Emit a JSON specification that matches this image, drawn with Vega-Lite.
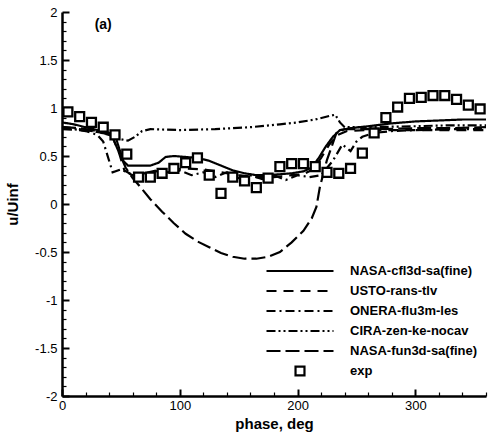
{
  "$schema": "https://vega.github.io/schema/vega-lite/v6.json",
  "width": 424,
  "height": 384,
  "autosize": {"type": "none"},
  "padding": {"left": 62, "top": 12, "right": 13, "bottom": 43},
  "background": "white",
  "config": {
    "view": {"stroke": null},
    "font": "Liberation Sans",
    "axis": {"grid": false, "domainColor": "black", "tickColor": "black", "labelColor": "black", "titleColor": "black"},
    "legend": {"padding": 0}
  },
  "resolve": {"axis": {"x": "independent", "y": "independent"}},
  "data": {"values": [
    {"series":"NASA-cfl3d-sa(fine)","phase":0,"u":0.85},{"series":"NASA-cfl3d-sa(fine)","phase":10,"u":0.83},{"series":"NASA-cfl3d-sa(fine)","phase":20,"u":0.80},{"series":"NASA-cfl3d-sa(fine)","phase":30,"u":0.77},{"series":"NASA-cfl3d-sa(fine)","phase":40,"u":0.74},{"series":"NASA-cfl3d-sa(fine)","phase":45,"u":0.72},{"series":"NASA-cfl3d-sa(fine)","phase":48,"u":0.60},{"series":"NASA-cfl3d-sa(fine)","phase":52,"u":0.45},{"series":"NASA-cfl3d-sa(fine)","phase":56,"u":0.40},{"series":"NASA-cfl3d-sa(fine)","phase":65,"u":0.40},{"series":"NASA-cfl3d-sa(fine)","phase":75,"u":0.40},{"series":"NASA-cfl3d-sa(fine)","phase":82,"u":0.43},{"series":"NASA-cfl3d-sa(fine)","phase":88,"u":0.49},{"series":"NASA-cfl3d-sa(fine)","phase":95,"u":0.50},{"series":"NASA-cfl3d-sa(fine)","phase":105,"u":0.49},{"series":"NASA-cfl3d-sa(fine)","phase":115,"u":0.48},{"series":"NASA-cfl3d-sa(fine)","phase":125,"u":0.45},{"series":"NASA-cfl3d-sa(fine)","phase":135,"u":0.40},{"series":"NASA-cfl3d-sa(fine)","phase":145,"u":0.35},{"series":"NASA-cfl3d-sa(fine)","phase":155,"u":0.32},{"series":"NASA-cfl3d-sa(fine)","phase":165,"u":0.30},{"series":"NASA-cfl3d-sa(fine)","phase":175,"u":0.30},{"series":"NASA-cfl3d-sa(fine)","phase":185,"u":0.31},{"series":"NASA-cfl3d-sa(fine)","phase":195,"u":0.32},{"series":"NASA-cfl3d-sa(fine)","phase":205,"u":0.34},{"series":"NASA-cfl3d-sa(fine)","phase":212,"u":0.38},{"series":"NASA-cfl3d-sa(fine)","phase":218,"u":0.48},{"series":"NASA-cfl3d-sa(fine)","phase":224,"u":0.60},{"series":"NASA-cfl3d-sa(fine)","phase":230,"u":0.70},{"series":"NASA-cfl3d-sa(fine)","phase":236,"u":0.77},{"series":"NASA-cfl3d-sa(fine)","phase":245,"u":0.79},{"series":"NASA-cfl3d-sa(fine)","phase":260,"u":0.81},{"series":"NASA-cfl3d-sa(fine)","phase":280,"u":0.84},{"series":"NASA-cfl3d-sa(fine)","phase":300,"u":0.86},{"series":"NASA-cfl3d-sa(fine)","phase":320,"u":0.87},{"series":"NASA-cfl3d-sa(fine)","phase":340,"u":0.88},{"series":"NASA-cfl3d-sa(fine)","phase":360,"u":0.88},

    {"series":"USTO-rans-tlv","phase":0,"u":0.78},{"series":"USTO-rans-tlv","phase":15,"u":0.77},{"series":"USTO-rans-tlv","phase":30,"u":0.75},{"series":"USTO-rans-tlv","phase":42,"u":0.72},{"series":"USTO-rans-tlv","phase":48,"u":0.55},{"series":"USTO-rans-tlv","phase":53,"u":0.35},{"series":"USTO-rans-tlv","phase":60,"u":0.30},{"series":"USTO-rans-tlv","phase":75,"u":0.33},{"series":"USTO-rans-tlv","phase":90,"u":0.36},{"series":"USTO-rans-tlv","phase":105,"u":0.37},{"series":"USTO-rans-tlv","phase":120,"u":0.36},{"series":"USTO-rans-tlv","phase":135,"u":0.33},{"series":"USTO-rans-tlv","phase":150,"u":0.30},{"series":"USTO-rans-tlv","phase":165,"u":0.28},{"series":"USTO-rans-tlv","phase":180,"u":0.28},{"series":"USTO-rans-tlv","phase":195,"u":0.30},{"series":"USTO-rans-tlv","phase":205,"u":0.31},{"series":"USTO-rans-tlv","phase":213,"u":0.36},{"series":"USTO-rans-tlv","phase":220,"u":0.48},{"series":"USTO-rans-tlv","phase":227,"u":0.62},{"series":"USTO-rans-tlv","phase":234,"u":0.72},{"series":"USTO-rans-tlv","phase":242,"u":0.76},{"series":"USTO-rans-tlv","phase":260,"u":0.77},{"series":"USTO-rans-tlv","phase":290,"u":0.77},{"series":"USTO-rans-tlv","phase":320,"u":0.77},{"series":"USTO-rans-tlv","phase":360,"u":0.77},

    {"series":"ONERA-flu3m-les","phase":0,"u":0.80},{"series":"ONERA-flu3m-les","phase":10,"u":0.78},{"series":"ONERA-flu3m-les","phase":20,"u":0.76},{"series":"ONERA-flu3m-les","phase":30,"u":0.72},{"series":"ONERA-flu3m-les","phase":35,"u":0.65},{"series":"ONERA-flu3m-les","phase":40,"u":0.45},{"series":"ONERA-flu3m-les","phase":43,"u":0.33},{"series":"ONERA-flu3m-les","phase":50,"u":0.36},{"series":"ONERA-flu3m-les","phase":60,"u":0.30},{"series":"ONERA-flu3m-les","phase":70,"u":0.32},{"series":"ONERA-flu3m-les","phase":80,"u":0.35},{"series":"ONERA-flu3m-les","phase":90,"u":0.33},{"series":"ONERA-flu3m-les","phase":100,"u":0.35},{"series":"ONERA-flu3m-les","phase":110,"u":0.30},{"series":"ONERA-flu3m-les","phase":120,"u":0.33},{"series":"ONERA-flu3m-les","phase":130,"u":0.28},{"series":"ONERA-flu3m-les","phase":140,"u":0.33},{"series":"ONERA-flu3m-les","phase":150,"u":0.27},{"series":"ONERA-flu3m-les","phase":160,"u":0.30},{"series":"ONERA-flu3m-les","phase":170,"u":0.26},{"series":"ONERA-flu3m-les","phase":180,"u":0.30},{"series":"ONERA-flu3m-les","phase":190,"u":0.25},{"series":"ONERA-flu3m-les","phase":200,"u":0.30},{"series":"ONERA-flu3m-les","phase":210,"u":0.28},{"series":"ONERA-flu3m-les","phase":220,"u":0.30},{"series":"ONERA-flu3m-les","phase":230,"u":0.45},{"series":"ONERA-flu3m-les","phase":238,"u":0.62},{"series":"ONERA-flu3m-les","phase":245,"u":0.55},{"series":"ONERA-flu3m-les","phase":250,"u":0.65},{"series":"ONERA-flu3m-les","phase":255,"u":0.70},{"series":"ONERA-flu3m-les","phase":265,"u":0.74},{"series":"ONERA-flu3m-les","phase":280,"u":0.76},{"series":"ONERA-flu3m-les","phase":300,"u":0.77},{"series":"ONERA-flu3m-les","phase":330,"u":0.78},{"series":"ONERA-flu3m-les","phase":360,"u":0.78},

    {"series":"CIRA-zen-ke-nocav","phase":0,"u":0.80},{"series":"CIRA-zen-ke-nocav","phase":10,"u":0.79},{"series":"CIRA-zen-ke-nocav","phase":20,"u":0.77},{"series":"CIRA-zen-ke-nocav","phase":30,"u":0.75},{"series":"CIRA-zen-ke-nocav","phase":40,"u":0.72},{"series":"CIRA-zen-ke-nocav","phase":48,"u":0.68},{"series":"CIRA-zen-ke-nocav","phase":56,"u":0.66},{"series":"CIRA-zen-ke-nocav","phase":62,"u":0.70},{"series":"CIRA-zen-ke-nocav","phase":68,"u":0.76},{"series":"CIRA-zen-ke-nocav","phase":75,"u":0.78},{"series":"CIRA-zen-ke-nocav","phase":100,"u":0.77},{"series":"CIRA-zen-ke-nocav","phase":130,"u":0.78},{"series":"CIRA-zen-ke-nocav","phase":160,"u":0.80},{"series":"CIRA-zen-ke-nocav","phase":185,"u":0.83},{"series":"CIRA-zen-ke-nocav","phase":200,"u":0.85},{"series":"CIRA-zen-ke-nocav","phase":215,"u":0.88},{"series":"CIRA-zen-ke-nocav","phase":228,"u":0.92},{"series":"CIRA-zen-ke-nocav","phase":232,"u":0.93},{"series":"CIRA-zen-ke-nocav","phase":236,"u":0.85},{"series":"CIRA-zen-ke-nocav","phase":240,"u":0.80},{"series":"CIRA-zen-ke-nocav","phase":260,"u":0.80},{"series":"CIRA-zen-ke-nocav","phase":300,"u":0.81},{"series":"CIRA-zen-ke-nocav","phase":330,"u":0.82},{"series":"CIRA-zen-ke-nocav","phase":360,"u":0.82},

    {"series":"NASA-fun3d-sa(fine)","phase":0,"u":0.80},{"series":"NASA-fun3d-sa(fine)","phase":15,"u":0.79},{"series":"NASA-fun3d-sa(fine)","phase":30,"u":0.76},{"series":"NASA-fun3d-sa(fine)","phase":42,"u":0.72},{"series":"NASA-fun3d-sa(fine)","phase":48,"u":0.55},{"series":"NASA-fun3d-sa(fine)","phase":54,"u":0.38},{"series":"NASA-fun3d-sa(fine)","phase":60,"u":0.27},{"series":"NASA-fun3d-sa(fine)","phase":67,"u":0.17},{"series":"NASA-fun3d-sa(fine)","phase":75,"u":0.05},{"series":"NASA-fun3d-sa(fine)","phase":85,"u":-0.08},{"series":"NASA-fun3d-sa(fine)","phase":95,"u":-0.20},{"series":"NASA-fun3d-sa(fine)","phase":105,"u":-0.31},{"series":"NASA-fun3d-sa(fine)","phase":115,"u":-0.39},{"series":"NASA-fun3d-sa(fine)","phase":125,"u":-0.45},{"series":"NASA-fun3d-sa(fine)","phase":135,"u":-0.51},{"series":"NASA-fun3d-sa(fine)","phase":145,"u":-0.55},{"series":"NASA-fun3d-sa(fine)","phase":155,"u":-0.57},{"series":"NASA-fun3d-sa(fine)","phase":165,"u":-0.57},{"series":"NASA-fun3d-sa(fine)","phase":175,"u":-0.55},{"series":"NASA-fun3d-sa(fine)","phase":185,"u":-0.50},{"series":"NASA-fun3d-sa(fine)","phase":195,"u":-0.40},{"series":"NASA-fun3d-sa(fine)","phase":205,"u":-0.28},{"series":"NASA-fun3d-sa(fine)","phase":212,"u":-0.15},{"series":"NASA-fun3d-sa(fine)","phase":216,"u":-0.03},{"series":"NASA-fun3d-sa(fine)","phase":219,"u":0.18},{"series":"NASA-fun3d-sa(fine)","phase":225,"u":0.46},{"series":"NASA-fun3d-sa(fine)","phase":233,"u":0.74},{"series":"NASA-fun3d-sa(fine)","phase":240,"u":0.78},{"series":"NASA-fun3d-sa(fine)","phase":270,"u":0.78},{"series":"NASA-fun3d-sa(fine)","phase":300,"u":0.79},{"series":"NASA-fun3d-sa(fine)","phase":330,"u":0.79},{"series":"NASA-fun3d-sa(fine)","phase":360,"u":0.80}
  ]},
  "layer": [
    {
      "transform": [{"filter": "indexof(['NASA-cfl3d-sa(fine)','USTO-rans-tlv','ONERA-flu3m-les'], datum.series) >= 0"}],
      "mark": {"type": "line", "stroke": "black", "strokeWidth": 2.2},
      "encoding": {
        "x": {"field": "phase", "type": "quantitative", "scale": {"domain": [0, 360], "nice": false, "zero": false},
          "axis": {"values": [0, 100, 200, 300], "title": "phase, deg", "titleFontSize": 15, "titleFontWeight": "bold", "titlePadding": 4,
            "labelFontSize": 13, "labelPadding": 3, "ticks": false, "domainWidth": 2.5, "labelFlush": false, "labelExpr": "datum.value + ''"}},
        "y": {"field": "u", "type": "quantitative", "scale": {"domain": [-2, 2], "nice": false, "zero": false},
          "axis": {"values": [-2, -1.5, -1, -0.5, 0, 0.5, 1, 1.5, 2], "title": "u/Uinf", "titleFontSize": 15, "titleFontWeight": "bold", "titlePadding": 14,
            "labelFontSize": 13, "labelPadding": 5, "ticks": false, "domainWidth": 2.5, "labelFlush": false, "labelExpr": "datum.value + ''"}},
        "strokeDash": {"field": "series", "type": "nominal",
          "scale": {"domain": ["NASA-cfl3d-sa(fine)", "USTO-rans-tlv", "ONERA-flu3m-les", "CIRA-zen-ke-nocav", "NASA-fun3d-sa(fine)", "exp"],
            "range": [[1, 0], [10, 7], [9, 4, 2, 4], [9, 3, 2, 3, 2, 3], [14, 5], [1, 0]]},
          "legend": {"orient": "none", "legendX": 203, "legendY": 250, "title": null,
            "symbolStrokeWidth": 2.2, "symbolStrokeColor": "black", "symbolFillColor": "white", "clipHeight": 18, "rowPadding": 2, "labelOffset": 15,
            "labelFontSize": 13, "labelFontWeight": "bold", "labelColor": "black", "labelLimit": 300}}
      }
    },
    {
      "transform": [{"filter": "indexof(['CIRA-zen-ke-nocav','NASA-fun3d-sa(fine)'], datum.series) >= 0"}],
      "mark": {"type": "line", "stroke": "black", "strokeWidth": 2.2},
      "encoding": {
        "x": {"field": "phase", "type": "quantitative",
          "axis": {"orient": "bottom", "offset": -7, "values": [0, 100, 200, 300], "labels": false, "domain": false, "title": null, "ticks": true, "tickSize": 7, "tickWidth": 2}},
        "y": {"field": "u", "type": "quantitative",
          "axis": {"orient": "left", "offset": -7, "values": [-2, -1.5, -1, -0.5, 0, 0.5, 1, 1.5, 2], "labels": false, "domain": false, "title": null, "ticks": true, "tickSize": 7, "tickWidth": 2}},
        "strokeDash": {"field": "series", "type": "nominal"}
      }
    },
    {
      "data": {"values": [
        {"series":"exp","phase":5,"u":0.96},{"series":"exp","phase":15,"u":0.91},{"series":"exp","phase":25,"u":0.85},{"series":"exp","phase":35,"u":0.80},{"series":"exp","phase":45,"u":0.72},{"series":"exp","phase":55,"u":0.52},{"series":"exp","phase":65,"u":0.28},{"series":"exp","phase":75,"u":0.28},{"series":"exp","phase":85,"u":0.32},{"series":"exp","phase":95,"u":0.37},{"series":"exp","phase":105,"u":0.43},{"series":"exp","phase":115,"u":0.48},{"series":"exp","phase":125,"u":0.30},{"series":"exp","phase":135,"u":0.11},{"series":"exp","phase":145,"u":0.28},{"series":"exp","phase":155,"u":0.24},{"series":"exp","phase":165,"u":0.17},{"series":"exp","phase":175,"u":0.27},{"series":"exp","phase":185,"u":0.39},{"series":"exp","phase":195,"u":0.42},{"series":"exp","phase":205,"u":0.42},{"series":"exp","phase":215,"u":0.39},{"series":"exp","phase":225,"u":0.33},{"series":"exp","phase":235,"u":0.32},{"series":"exp","phase":245,"u":0.37},{"series":"exp","phase":255,"u":0.53},{"series":"exp","phase":265,"u":0.74},{"series":"exp","phase":275,"u":0.90},{"series":"exp","phase":285,"u":1.01},{"series":"exp","phase":295,"u":1.10},{"series":"exp","phase":305,"u":1.11},{"series":"exp","phase":315,"u":1.13},{"series":"exp","phase":325,"u":1.13},{"series":"exp","phase":335,"u":1.09},{"series":"exp","phase":345,"u":1.03},{"series":"exp","phase":355,"u":0.99}
      ]},
      "mark": {"type": "point", "filled": false, "stroke": "black", "strokeWidth": 2.3, "fill": "white", "fillOpacity": 1, "opacity": 1},
      "encoding": {
        "x": {"field": "phase", "type": "quantitative",
          "axis": {"orient": "bottom", "offset": -4, "values": [20, 40, 60, 80, 120, 140, 160, 180, 220, 240, 260, 280, 320, 340, 360], "labels": false, "domain": false, "title": null, "ticks": true, "tickSize": 4, "tickWidth": 1.2}},
        "y": {"field": "u", "type": "quantitative",
          "axis": {"orient": "left", "offset": -4, "values": [-1.9, -1.8, -1.7, -1.6, -1.4, -1.3, -1.2, -1.1, -0.9, -0.8, -0.7, -0.6, -0.4, -0.3, -0.2, -0.1, 0.1, 0.2, 0.3, 0.4, 0.6, 0.7, 0.8, 0.9, 1.1, 1.2, 1.3, 1.4, 1.6, 1.7, 1.8, 1.9], "labels": false, "domain": false, "title": null, "ticks": true, "tickSize": 4, "tickWidth": 1.2}},
        "shape": {"field": "series", "type": "nominal",
          "scale": {"domain": ["NASA-cfl3d-sa(fine)", "USTO-rans-tlv", "ONERA-flu3m-les", "CIRA-zen-ke-nocav", "NASA-fun3d-sa(fine)", "exp"],
            "range": ["stroke", "stroke", "stroke", "stroke", "stroke", "square"]},
          "legend": {"orient": "none", "legendX": 203, "legendY": 250, "title": null,
            "symbolStrokeWidth": 2.2, "symbolStrokeColor": "black", "symbolFillColor": "white", "clipHeight": 18, "rowPadding": 2, "labelOffset": 15,
            "labelFontSize": 13, "labelFontWeight": "bold", "labelColor": "black", "labelLimit": 300}},
        "size": {"field": "series", "type": "nominal",
          "scale": {"type": "ordinal", "domain": ["NASA-cfl3d-sa(fine)", "USTO-rans-tlv", "ONERA-flu3m-les", "CIRA-zen-ke-nocav", "NASA-fun3d-sa(fine)", "exp"],
            "range": [4489, 4489, 4489, 4489, 4489, 80]},
          "legend": {"orient": "none", "legendX": 203, "legendY": 250, "title": null,
            "symbolStrokeWidth": 2.2, "symbolStrokeColor": "black", "symbolFillColor": "white", "clipHeight": 18, "rowPadding": 2, "labelOffset": 15,
            "labelFontSize": 13, "labelFontWeight": "bold", "labelColor": "black", "labelLimit": 300}}
      }
    },
    {
      "data": {"values": [{}]},
      "mark": {"type": "text", "text": "(a)", "fontSize": 14, "fontWeight": "bold", "color": "black"},
      "encoding": {
        "x": {"datum": 35, "type": "quantitative", "axis": null},
        "y": {"datum": 1.86, "type": "quantitative", "axis": null}
      }
    }
  ]
}
